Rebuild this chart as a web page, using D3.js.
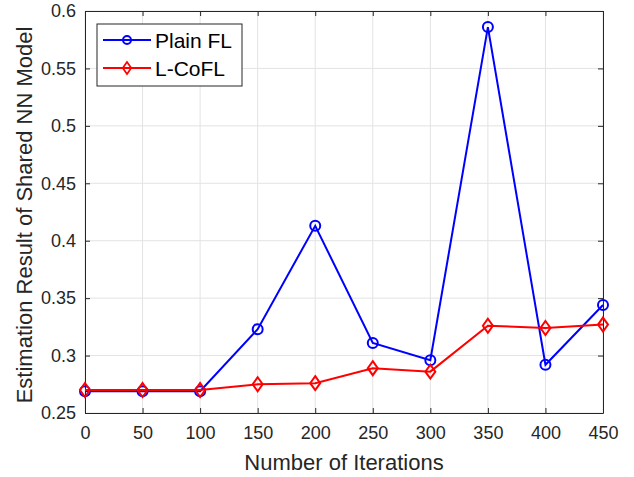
<!DOCTYPE html>
<html>
<head>
<meta charset="utf-8">
<script src="https://cdn.jsdelivr.net/npm/d3@7"></script>
<style>
  body { margin: 0; background: #fff; }
  text { font-family: "Liberation Sans", Arial, sans-serif; }
</style>
</head>
<body>
<div id="chart"></div>
<script>
// data
const iterations = [0, 50, 100, 150, 200, 250, 300, 350, 400, 450];
const plainFL = [0.269, 0.269, 0.269, 0.323, 0.413, 0.311, 0.296, 0.586, 0.292, 0.344];
const lCoFL = [0.270, 0.270, 0.270, 0.275, 0.276, 0.289, 0.286, 0.326, 0.324, 0.327];
const xTicks = [0, 50, 100, 150, 200, 250, 300, 350, 400, 450];
const yTicks = [0.25, 0.3, 0.35, 0.4, 0.45, 0.5, 0.55, 0.6];

const width = 634, height = 477;
const margin = {left: 85, right: 31, top: 11, bottom: 64};

const svg = d3.select("#chart").append("svg")
  .attr("width", width)
  .attr("height", height);

const x = d3.scaleLinear().domain([0, 450]).range([margin.left, width - margin.right]);
const y = d3.scaleLinear().domain([0.25, 0.6]).range([height - margin.bottom, margin.top]);

// grid
svg.append("g").selectAll("line").data(xTicks).join("line")
  .attr("x1", d => x(d)).attr("x2", d => x(d))
  .attr("y1", y(0.25)).attr("y2", y(0.6))
  .attr("stroke", "#e3e3e3").attr("stroke-width", 1);
svg.append("g").selectAll("line").data(yTicks).join("line")
  .attr("x1", x(0)).attr("x2", x(450))
  .attr("y1", d => y(d)).attr("y2", d => y(d))
  .attr("stroke", "#e3e3e3").attr("stroke-width", 1);

// axes (ticks inward)
const fmt = d => String(+d.toFixed(2));

const xAxis = g => g
  .attr("transform", `translate(0,${y(0.25)})`)
  .call(d3.axisBottom(x).tickValues(xTicks).tickSizeInner(-5).tickSizeOuter(0).tickPadding(13));
const yAxis = g => g
  .attr("transform", `translate(${x(0)},0)`)
  .call(d3.axisLeft(y).tickValues(yTicks).tickFormat(fmt).tickSizeInner(-5).tickSizeOuter(0).tickPadding(9));

svg.append("g").call(xAxis);
svg.append("g").call(yAxis);

// top / right box edges with ticks
svg.append("g")
  .attr("transform", `translate(0,${y(0.6)})`)
  .call(d3.axisTop(x).tickValues(xTicks).tickSizeInner(-5).tickSizeOuter(0).tickFormat(""));
svg.append("g")
  .attr("transform", `translate(${x(450)},0)`)
  .call(d3.axisRight(y).tickValues(yTicks).tickSizeInner(-5).tickSizeOuter(0).tickFormat(""));

svg.selectAll(".domain").attr("stroke", "#262626").attr("stroke-width", 1);
svg.selectAll(".tick line").attr("stroke", "#262626");
svg.selectAll(".tick text").attr("fill", "#262626").style("font-size", "18px")
  .style("font-family", "'Liberation Sans', Arial, sans-serif");

// lines
const line = d3.line().x((d, i) => x(iterations[i])).y(d => y(d));

svg.append("path").datum(plainFL)
  .attr("fill", "none").attr("stroke", "#0000ff").attr("stroke-width", 2)
  .attr("d", line);
svg.append("path").datum(lCoFL)
  .attr("fill", "none").attr("stroke", "#ff0000").attr("stroke-width", 2)
  .attr("d", line);

// markers
svg.append("g").selectAll("circle").data(plainFL).join("circle")
  .attr("cx", (d, i) => x(iterations[i])).attr("cy", d => y(d))
  .attr("r", 5).attr("fill", "none").attr("stroke", "#0000ff").attr("stroke-width", 2);

const diamond = "M0,-7L5,0L0,7L-5,0Z";
svg.append("g").selectAll("path").data(lCoFL).join("path")
  .attr("transform", (d, i) => `translate(${x(iterations[i])},${y(d)})`)
  .attr("d", diamond).attr("fill", "none").attr("stroke", "#ff0000").attr("stroke-width", 2);

// axis labels
svg.append("text")
  .attr("x", (x(0) + x(450)) / 2).attr("y", 470)
  .attr("text-anchor", "middle").attr("fill", "#262626")
  .style("font-size", "22px")
  .text("Number of Iterations");
svg.append("text")
  .attr("transform", `translate(32,${(y(0.25) + y(0.6)) / 2 + 3}) rotate(-90)`)
  .attr("text-anchor", "middle").attr("fill", "#262626")
  .style("font-size", "22px")
  .text("Estimation Result of Shared NN Model");

// legend
const legend = svg.append("g").attr("transform", "translate(97,24)");
legend.append("rect").attr("width", 145).attr("height", 62)
  .attr("fill", "#fff").attr("stroke", "#262626").attr("stroke-width", 1);
const legendItems = [
  {name: "Plain FL", color: "#0000ff", marker: "circle"},
  {name: "L-CoFL", color: "#ff0000", marker: "diamond"}
];
legendItems.forEach((item, i) => {
  const cy = 16 + i * 28;
  legend.append("line").attr("x1", 6).attr("x2", 54).attr("y1", cy).attr("y2", cy)
    .attr("stroke", item.color).attr("stroke-width", 2);
  if (item.marker === "circle") {
    legend.append("circle").attr("cx", 30).attr("cy", cy).attr("r", 4)
      .attr("fill", "none").attr("stroke", item.color).attr("stroke-width", 2);
  } else {
    legend.append("path").attr("transform", `translate(30,${cy}) scale(0.85)`).attr("d", diamond)
      .attr("fill", "none").attr("stroke", item.color).attr("stroke-width", 2);
  }
  legend.append("text").attr("x", 58).attr("y", cy + 8)
    .attr("fill", "#000").style("font-size", "21px").text(item.name);
});
</script>
</body>
</html>
